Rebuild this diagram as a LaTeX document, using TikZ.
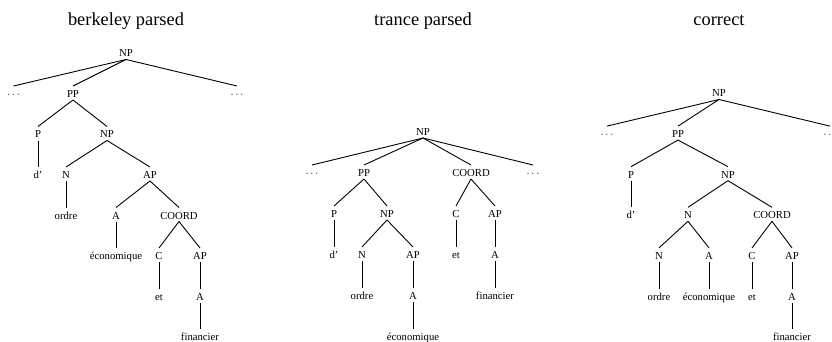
\documentclass[tikz,border=0pt]{standalone}
\usepackage{fontspec}
\setmainfont{Liberation Serif}
\begin{document}
\begin{tikzpicture}[x=1pt,y=-1pt,
  lab/.style={anchor=base,inner sep=0pt,font=\fontsize{10.7}{12}\selectfont},
  ttl/.style={anchor=base,inner sep=0pt,font=\fontsize{18.4}{22}\selectfont},
  edge/.style={line width=0.9pt,black}]
\useasboundingbox (0,0) rectangle (832,342);
% titles
\node[ttl] (t1) at (126,26) {berkeley parsed};
\node[ttl] (t2) at (423,26) {trance parsed};
\node[ttl] (t3) at (719,26) {correct};
% left tree
\node[lab] (a0) at (126,57) {NP};
\node[lab] (a1) at (13.5,97.5) {$\cdots$};
\node[lab] (a2) at (73,97.5) {PP};
\node[lab] (a3) at (237,97.5) {$\cdots$};
\node[lab] (a4) at (38,138) {P};
\node[lab] (a5) at (107,138) {NP};
\node[lab] (a6) at (38,178.5) {d'};
\node[lab] (a7) at (66,178.5) {N};
\node[lab] (a8) at (150,178.5) {AP};
\node[lab] (a9) at (66,219) {ordre};
\node[lab] (a10) at (116,219) {A};
\node[lab] (a11) at (179,219) {COORD};
\node[lab] (a12) at (116,259.5) {économique};
\node[lab] (a13) at (159,259.5) {C};
\node[lab] (a14) at (200,259.5) {AP};
\node[lab] (a15) at (159,300) {et};
\node[lab] (a16) at (200,300) {A};
\node[lab] (a17) at (200,340.5) {financier};
% middle tree
\node[lab] (b0) at (423,135.5) {NP};
\node[lab] (b1) at (312,176.5) {$\cdots$};
\node[lab] (b2) at (364,176.5) {PP};
\node[lab] (b3) at (471,176.5) {COORD};
\node[lab] (b4) at (533,176.5) {$\cdots$};
\node[lab] (b5) at (334,217.5) {P};
\node[lab] (b6) at (387,217.5) {NP};
\node[lab] (b7) at (456,217.5) {C};
\node[lab] (b8) at (495,217.5) {AP};
\node[lab] (b9) at (334,258.5) {d'};
\node[lab] (b10) at (362,258.5) {N};
\node[lab] (b11) at (413,258.5) {AP};
\node[lab] (b12) at (456,258.5) {et};
\node[lab] (b13) at (495,258.5) {A};
\node[lab] (b14) at (362,299.5) {ordre};
\node[lab] (b15) at (413,299.5) {A};
\node[lab] (b16) at (495,299.5) {financier};
\node[lab] (b17) at (413,340.5) {économique};
% right tree
\node[lab] (c0) at (719,97) {NP};
\node[lab] (c1) at (607,137.6) {$\cdots$};
\node[lab] (c2) at (678,137.6) {PP};
\node[lab] (c3) at (830,137.6) {$\cdots$};
\node[lab] (c4) at (631,178.2) {P};
\node[lab] (c5) at (728,178.2) {NP};
\node[lab] (c6) at (631,218.8) {d'};
\node[lab] (c7) at (688,218.8) {N};
\node[lab] (c8) at (772,218.8) {COORD};
\node[lab] (c9) at (659,259.4) {N};
\node[lab] (c10) at (709,259.4) {A};
\node[lab] (c11) at (752,259.4) {C};
\node[lab] (c12) at (792,259.4) {AP};
\node[lab] (c13) at (659,300) {ordre};
\node[lab] (c14) at (709,300) {économique};
\node[lab] (c15) at (752,300) {et};
\node[lab] (c16) at (792,300) {A};
\node[lab] (c17) at (792,340.6) {financier};
% edges
\foreach \p/\c in {a0/a1,a0/a2,a0/a3,a2/a4,a2/a5,a4/a6,a5/a7,a5/a8,a7/a9,a8/a10,a8/a11,a10/a12,a11/a13,a11/a14,a13/a15,a14/a16,a16/a17,
  b0/b1,b0/b2,b0/b3,b0/b4,b2/b5,b2/b6,b3/b7,b3/b8,b5/b9,b6/b10,b6/b11,b7/b12,b8/b13,b10/b14,b11/b15,b13/b16,b15/b17,
  c0/c1,c0/c2,c0/c3,c2/c4,c2/c5,c4/c6,c5/c7,c5/c8,c7/c9,c7/c10,c8/c11,c8/c12,c9/c13,c10/c14,c11/c15,c12/c16,c16/c17}
  \draw[edge] ([yshift=-2.5pt]\p.base) -- ([yshift=11.5pt]\c.base);
\end{tikzpicture}
\end{document}
